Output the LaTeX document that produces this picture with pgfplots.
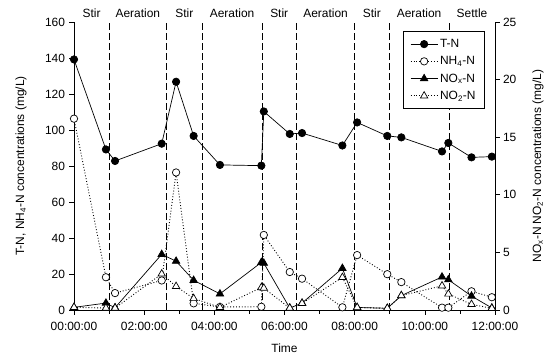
\documentclass[border=0pt]{standalone}
\usepackage{pgfplots}
\pgfplotsset{compat=1.18}
\usepackage{fontspec}
\setmainfont{Liberation Sans}
\newcommand{\fs}{\fontsize{12}{14}\selectfont}
\pgfplotstableread{
t     tn     nh     nox   no2
0.00  139.2  106.3  0.23  0.23
0.91  89.2   18.2   0.60  0.17
1.17  82.8   9.4    0.20  0.17
2.50  92.4   16.4   4.83  3.13
2.91  126.8  76.4   4.24  2.05
3.41  96.7   3.7    2.58  1.00
4.16  80.6   1.7    1.40  0.23
5.34  80.2   1.8    4.13  1.95
5.41  110.3  41.7   4.07  1.90
6.15  97.8   21.1   0.17  0.17
6.50  98.3   17.4   0.60  0.58
7.65  91.4   1.5    3.62  2.83
8.07  104.2  30.5   0.22  0.22
8.93  96.7   19.9   0.15  0.15
9.33  95.9   15.5   1.25  1.25
10.49 88.1   1.3    2.87  2.10
10.67 92.8   1.3    2.63  1.39
11.33 84.8   10.4   1.21  0.49
11.91 85.2   7.1    0.18  0.15
}\datatable
\tikzset{phase/.style={anchor=base, font=\fs, inner sep=0pt}}
\begin{document}
\begin{tikzpicture}
\pgfplotsset{
  base/.style={
    scale only axis, width=421bp, height=288bp,
    at={(0,0)}, anchor=south west,
    xmin=0, xmax=12,
    clip=false,
    tick align=outside,
    axis line style={-, line width=0.6bp},
    tick style={black, line width=0.6bp},
    major tick length=4.5bp, minor tick length=3.5bp,
    /pgf/number format/assume math mode=true,
    tick label style={font=\fs},
    xticklabel style={yshift=-4bp},
    yticklabel style={xshift=-1bp},
  },
  tn/.style={black, line width=0.7bp, mark=*, mark size=3.7bp, mark options={solid, fill=black}},
  nh/.style={black, dotted, line width=0.9bp, mark=*, mark size=3.7bp, mark options={solid, fill=white, line width=0.7bp}},
  nox/.style={black, line width=0.7bp, mark=triangle*, mark size=4.3bp, mark options={solid, fill=black}},
  no2/.style={black, dotted, line width=0.9bp, mark=triangle*, mark size=4.3bp, mark options={solid, fill=white, line width=0.7bp}},
}
\begin{axis}[base,
  axis x line*=bottom, axis y line*=left,
  ymin=0, ymax=160, ytick={0,20,...,160},
  xtick={0,2,...,12}, minor xtick={1,3,...,11},
  xticklabels={00:00:00,02:00:00,04:00:00,06:00:00,08:00:00,10:00:00,12:00:00},
  xlabel={Time},
  ylabel={T-N, NH\textsubscript{4}-N concentrations (mg/L)},
  every axis x label/.style={at={(axis description cs:0.5,-0.132)}, anchor=center, font=\fs},
  every axis y label/.style={at={(axis description cs:-0.126,0.5)}, rotate=90, anchor=center, font=\fs},
]
\pgfplotsinvokeforeach{1.0,2.64,3.65,5.36,6.34,8.0,8.98,10.69}{
  \draw[black, line width=0.6bp, dash pattern=on 7bp off 3bp] (axis cs:#1,0) -- (axis cs:#1,160);
}
\node[phase] at ([yshift=4bp]axis cs:0.5,160) {Stir};
\node[phase] at ([yshift=4bp]axis cs:1.82,160) {Aeration};
\node[phase] at ([yshift=4bp]axis cs:3.145,160) {Stir};
\node[phase] at ([yshift=4bp]axis cs:4.505,160) {Aeration};
\node[phase] at ([yshift=4bp]axis cs:5.85,160) {Stir};
\node[phase] at ([yshift=4bp]axis cs:7.17,160) {Aeration};
\node[phase] at ([yshift=4bp]axis cs:8.49,160) {Stir};
\node[phase] at ([yshift=4bp]axis cs:9.835,160) {Aeration};
\node[phase] at ([yshift=4bp]axis cs:11.345,160) {Settle};
\addplot[tn] table[x=t, y=tn] {\datatable};
\addplot[nh] table[x=t, y=nh] {\datatable};
\end{axis}
\begin{axis}[base,
  axis x line=none, axis y line*=right,
  ymin=0, ymax=25, ytick={0,5,...,25},
  yticklabel style={xshift=1bp},
  ylabel={NO\textsubscript{x}-N NO\textsubscript{2}-N concentrations (mg/L)},
  every axis y label/.style={at={(axis description cs:1.102,0.5)}, rotate=90, anchor=center, font=\fs},
  legend style={at={(axis description cs:0.976,0.969)}, anchor=north east, draw=black, line width=0.7bp, fill=white, font=\fs, inner xsep=7bp, inner ysep=6bp, row sep=3.5bp},
  legend cell align=left,
  legend image code/.code={\draw[mark repeat=2, mark phase=2, #1] plot coordinates {(0bp,0bp) (13.5bp,0bp) (27bp,0bp)};},
]
\addlegendimage{tn}
\addlegendimage{nh}
\addplot[nox] table[x=t, y=nox] {\datatable};
\addplot[no2] table[x=t, y=no2] {\datatable};
\legend{T-N, NH\textsubscript{4}-N, NO\textsubscript{x}-N, NO\textsubscript{2}-N}
\end{axis}
\pgfresetboundingbox
\path (-74bp,-45bp) rectangle (474bp,310bp);
\end{tikzpicture}
\end{document}
